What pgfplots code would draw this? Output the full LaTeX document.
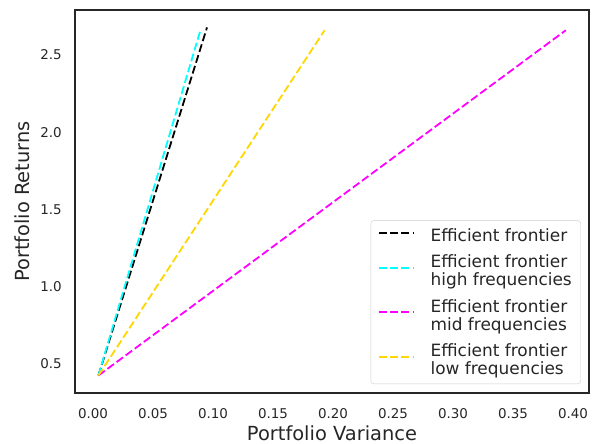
\documentclass[border=0pt]{standalone}
\usepackage{pgfplots}
\pgfplotsset{compat=1.18}
\usepackage{fontspec}
\setmainfont{DejaVu Sans}
\definecolor{txt}{RGB}{38,38,38}
\definecolor{legframe}{RGB}{204,204,204}
\definecolor{gold}{RGB}{255,215,0}
\definecolor{cyanc}{RGB}{0,255,255}
\definecolor{magc}{RGB}{255,0,255}
\begin{document}
\begin{tikzpicture}
\begin{axis}[
  name=ax,
  scale only axis,
  width=514bp, height=383bp,
  xmin=-0.015, xmax=0.4133,
  ymin=0.312, ymax=2.791,
  axis line style={color=txt, line width=1.25bp},
  major tick length=0pt,
  xtick={0,0.05,0.1,0.15,0.2,0.25,0.3,0.35,0.4},
  ytick={0.5,1.0,1.5,2.0,2.5},
  /pgf/number format/assume math mode=true,
  xticklabel={\pgfmathprintnumber[fixed,fixed zerofill,precision=2]{\tick}},
  yticklabel={\pgfmathprintnumber[fixed,fixed zerofill,precision=1]{\tick}},
  tick label style={font=\fontsize{13.5}{16}\selectfont, text=txt},
  xticklabel style={anchor=base, inner sep=0pt, yshift=-25bp},
  yticklabel style={anchor=east, inner sep=0pt, xshift=-13bp},
  xlabel={Portfolio Variance},
  ylabel={Portfolio Returns},
  label style={font=\fontsize{19.5}{23}\selectfont, text=txt},
  xlabel style={at={(rel axis cs:0.5,0)}, anchor=base, inner sep=0pt, yshift=-47bp},
  ylabel style={at={(rel axis cs:0,0.5)}, anchor=base, inner sep=0pt, yshift=45bp},
  legend cell align=left,
  legend image code/.code={\draw[#1] (0bp,0.3em) -- (35bp,0.3em);},
  legend style={at={(rel axis cs:0.9844,0.0235)}, anchor=south east,
    draw=legframe, rounded corners=3bp, fill=white, fill opacity=0.8, text opacity=1,
    font=\fontsize{17}{18}\selectfont, text=txt,
    inner xsep=7bp, inner ysep=6bp, row sep=8bp,
    cells={align=left, inner sep=0pt},
    /tikz/column 1/.style={column sep=14bp}},
  every axis plot/.append style={line width=1.8bp, dash pattern=on 8bp off 3.3bp},
]
\addplot[color=black, no marks] coordinates {(0.0045,0.425) (0.095,2.678)};
\addlegendentry{Efficient frontier}
\addplot[color=cyanc, no marks] coordinates {(0.0045,0.425) (0.0895,2.66)};
\addlegendentry{Efficient frontier\\high frequencies}
\addplot[color=magc, no marks] coordinates {(0.0045,0.425) (0.394,2.66)};
\addlegendentry{Efficient frontier\\mid frequencies}
\addplot[color=gold, no marks] coordinates {(0.0045,0.425) (0.193,2.66)};
\addlegendentry{Efficient frontier\\low frequencies}
\end{axis}
\pgfresetboundingbox
\path[use as bounding box] ([shift={(-75bp,-51bp)}]ax.south west) rectangle ([shift={(5bp,10bp)}]ax.north east);
\end{tikzpicture}
\end{document}
